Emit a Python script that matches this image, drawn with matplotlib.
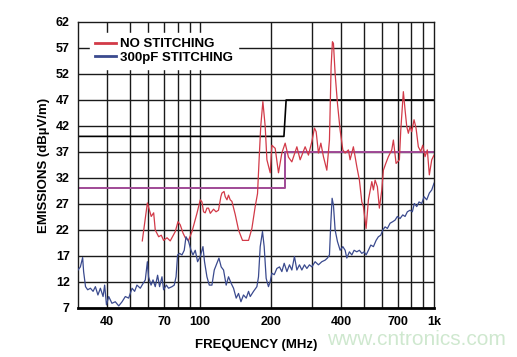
import matplotlib
matplotlib.use("Agg")
import matplotlib.pyplot as plt
from matplotlib.ticker import FixedLocator, NullLocator

# NO STITCHING (MHz, dBuV/m)
red_f = [56.5, 59.4, 61.7, 63.2, 64.2, 66.4, 68.1, 69.7, 72.1, 74.4, 78.2, 80.3,
         82.1, 84.4, 86.3, 89.1, 92.2, 96.8, 100, 101.7, 103.3, 105, 106.8, 108.5,
         110.4, 114, 116.8, 119.7, 122.5, 123.8, 126.4, 127.9, 130.1, 132.1, 134.3,
         136.6, 141.1, 145.8, 151.6, 160.9, 166.3, 171.8, 175.8, 179.2, 181.5,
         185.3, 189.6, 192.8, 199.2, 202.5, 209.2, 216.1, 223.4, 230.8, 238.4,
         246.5, 259, 267.5, 281, 290.3, 300.2, 308, 313.2, 320.3, 328, 336.5,
         347.9, 357, 362.9, 367.6, 371.3, 377.5, 386.2, 396.6, 407.3, 416.6,
         430.3, 437.5, 451.9, 467.4, 479.5, 491, 498.8, 507.1, 512.2, 524,
         541.9, 550.5, 559.7, 572.5, 583.8, 597.8, 607.3, 621.8, 637.9, 659.6,
         670.2, 688.2, 710.9, 720.7, 739.3, 751.8, 764.4, 776.6, 789.6, 803,
         821.3, 837.7, 856.8, 877.4, 894.8, 915.2, 936.2, 954.8, 977.7, 1000]
red_v = [19.9, 27.2, 24.6, 25.3, 22.0, 20.7, 21.0, 20.0, 20.5, 19.9, 21.7, 23.6,
         23.0, 21.4, 20.5, 20.0, 21.7, 25.2, 27.8, 27.4, 25.5, 25.3, 26.2, 26.2,
         25.2, 26.0, 25.5, 25.8, 28.4, 29.1, 29.4, 28.4, 27.8, 28.7, 27.8,
         27.5, 25.0, 22.0, 20.0, 20.0, 22.3, 26.5, 29.0, 37.0, 42.0,
         46.7, 41.9, 35.5, 33.0, 38.3, 37.7, 33.0, 36.8, 38.7, 36.0,
         35.1, 38.0, 35.5, 38.0, 36.4, 39.0, 41.6, 40.9, 36.8, 38.7, 36.1,
         33.5, 39.3, 53.4, 58.2, 57.9, 52.1, 46.4, 41.2, 37.4, 36.8,
         37.4, 35.5, 38.0, 34.2, 31.6, 27.4, 26.5, 23.9, 22.3, 27.8,
         31.3, 29.7, 31.6, 30.3, 26.2, 29.7, 33.5, 34.8, 36.1, 37.4,
         39.3, 34.8, 35.5, 41.2, 48.6, 45.1, 41.9, 40.6, 41.9, 40.9,
         43.2, 41.6, 38.0, 37.1, 38.3, 36.1, 37.4, 32.6, 35.5, 36.4]

# 300pF STITCHING
blue_f = [30, 30.7, 31.4, 31.7, 32.3, 33.0, 33.9, 34.8, 35.6, 36.5, 37.4, 38.4,
          39.0, 39.7, 40.6, 41.9, 43.3, 44.8, 46.3, 47.8, 49.4, 51.1, 52.4, 53.6,
          55.4, 56.9, 58.2, 59.4, 60.1, 61.6, 62.8, 64.2, 65.7, 67.0, 68.6, 69.7,
          71.6, 73.2, 75.7, 77.4, 78.8, 80.0, 81.6, 83.5, 85.4, 86.9, 89.1, 91.3,
          93.1, 95.2, 97.4, 100, 102.7, 104.3, 106.8, 109.3, 112.2, 114.8, 117.9,
          120.2, 122.9, 125.8, 129.1, 132.1, 135.7, 138.8, 142.5, 145.8, 149.3,
          153.1, 157.3, 160.9, 163.6, 169.0, 174.7, 177.5, 180.5, 184.6, 187.7,
          191.4, 195.8, 199.2, 202.5, 207.2, 212.7, 218.3, 223.4, 228.6, 234.8,
          240.8, 246.5, 252.9, 259.0, 265.7, 272.0, 279.1, 285.8, 293.2, 300.2,
          310.0, 320.3, 331.2, 342.1, 349.9, 357.0, 361.8, 366.5, 371.3, 377.5,
          386.2, 396.6, 407.3, 416.6, 423.6, 434.5, 445.0, 455.1, 467.4, 479.5,
          491.0, 502.2, 512.2, 524.0, 536.5, 550.5, 565.2, 578.1, 591.9, 603.7,
          617.5, 631.7, 648.6, 666.0, 681.3, 696.9, 715.6, 734.9, 751.8, 769.0,
          789.6, 807.8, 823.8, 843.5, 862.8, 886.0, 906.4, 930.7, 954.8, 977.7, 1000]
blue_v = [14.3, 14.9, 16.7, 14.0, 11.1, 10.5, 10.8, 10.2, 11.1, 9.5, 10.8, 9.2,
          11.4, 7.6, 9.2, 7.9, 8.2, 7.4, 8.2, 9.2, 8.9, 10.8, 10.2, 11.4,
          10.8, 11.7, 12.4, 15.9, 13.0, 11.4, 12.4, 11.1, 13.3, 11.1, 13.0, 10.5,
          11.4, 10.8, 11.1, 11.4, 13.0, 17.2, 17.5, 17.2, 18.1, 20.7, 19.8, 18.1,
          17.2, 18.1, 15.9, 16.9, 18.8, 15.9, 13.0, 11.4, 11.4, 14.3, 15.6,
          16.6, 14.9, 14.3, 11.4, 13.0, 11.7, 10.8, 8.9, 9.8, 8.2,
          9.5, 8.9, 10.2, 9.2, 10.2, 11.1, 13.0, 18.8, 21.7, 18.8,
          12.7, 11.1, 12.1, 13.7, 13.4, 14.6, 14.9, 14.0, 15.6, 14.0,
          15.3, 14.3, 16.9, 14.3, 15.3, 14.3, 15.3, 14.6, 15.3, 14.9,
          15.9, 15.3, 15.9, 16.2, 16.6, 17.2, 23.3, 28.1, 26.8, 22.0,
          19.8, 18.1, 18.8, 18.1, 16.6, 17.8, 17.2, 18.1, 17.8, 18.1,
          17.5, 17.8, 17.2, 18.1, 19.1, 18.8, 20.0, 20.7, 21.0, 22.0,
          22.6, 22.3, 23.3, 23.6, 23.9, 24.6, 24.2, 24.9, 24.6, 25.5,
          25.8, 25.5, 27.1, 26.5, 27.4, 27.1, 28.4, 27.8, 29.1, 29.7, 31.0]

# limit lines (class A black, class B magenta)
lim_a_f = [30, 228, 233, 1000]
lim_a_v = [40, 40, 47, 47]
lim_b_f = [30, 230, 230, 1000]
lim_b_v = [30, 30, 37, 37]

xticks = [40, 70, 100, 200, 400, 700, 1000]
xticklabels = ["40", "70", "100", "200", "400", "700", "1k"]
xgrid = [40, 50, 60, 70, 80, 90, 100, 200, 300, 400, 500, 600, 700, 800, 900]
yticks = [7, 12, 17, 22, 27, 32, 37, 42, 47, 52, 57, 62]

plt.rcParams['font.family'] = ['Liberation Sans', 'DejaVu Sans']

fig = plt.figure(figsize=(5.17, 3.57), dpi=100)
ax = fig.add_axes([0.1509, 0.1373, 0.6886, 0.8011])
ax.set_xscale("log")
ax.set_xlim(30, 1000)
ax.set_ylim(7, 62)

for f in xgrid:
    ax.axvline(f, color="#1a1a1a", lw=1.0, zorder=1)
for v in yticks[1:-1]:
    ax.axhline(v, color="#1a1a1a", lw=1.0, zorder=1)

ax.plot(lim_a_f, lim_a_v, color="black", lw=1.2, zorder=2)
ax.plot(lim_b_f, lim_b_v, color="#a04a96", lw=1.4, zorder=2)
ax.plot(red_f, red_v, color="#d23a48", lw=0.9, zorder=3, label="NO STITCHING")
ax.plot(blue_f, blue_v, color="#3a4a8e", lw=0.9, zorder=3, label="300pF STITCHING")

ax.xaxis.set_major_locator(FixedLocator(xticks))
ax.xaxis.set_minor_locator(NullLocator())
ax.set_xticklabels(xticklabels)
ax.set_yticks(yticks)
ax.tick_params(length=0, pad=6, labelsize=9)
for lab in ax.get_xticklabels() + ax.get_yticklabels():
    lab.set_fontweight("bold")

for s in ax.spines.values():
    s.set_color("#1a1a1a")
    s.set_linewidth(1.0)
ax.spines["bottom"].set_linewidth(2.0)
ax.spines["bottom"].set_color("black")

leg = ax.legend(loc="upper left", bbox_to_anchor=(0.015, 0.985), frameon=True,
                fancybox=False, edgecolor="white", facecolor="white", framealpha=1,
                prop={"weight": "bold", "size": 9.5}, handlelength=1.6,
                handletextpad=0.25, labelspacing=0.1, borderpad=0.4)
leg.set_zorder(5)
for line in leg.get_lines():
    line.set_linewidth(2.0)

ax.set_xlabel("FREQUENCY (MHz)", fontsize=9.5, fontweight="bold", labelpad=8)
ax.set_ylabel("EMISSIONS (dB\u00b5V/m)", fontsize=9.5, fontweight="bold", labelpad=4)

fig.text(0.805, 0.035, "www.cntronics.com", color="#cfe8cf", fontsize=15, ha="center")

fig.savefig("out.png", dpi=100)
